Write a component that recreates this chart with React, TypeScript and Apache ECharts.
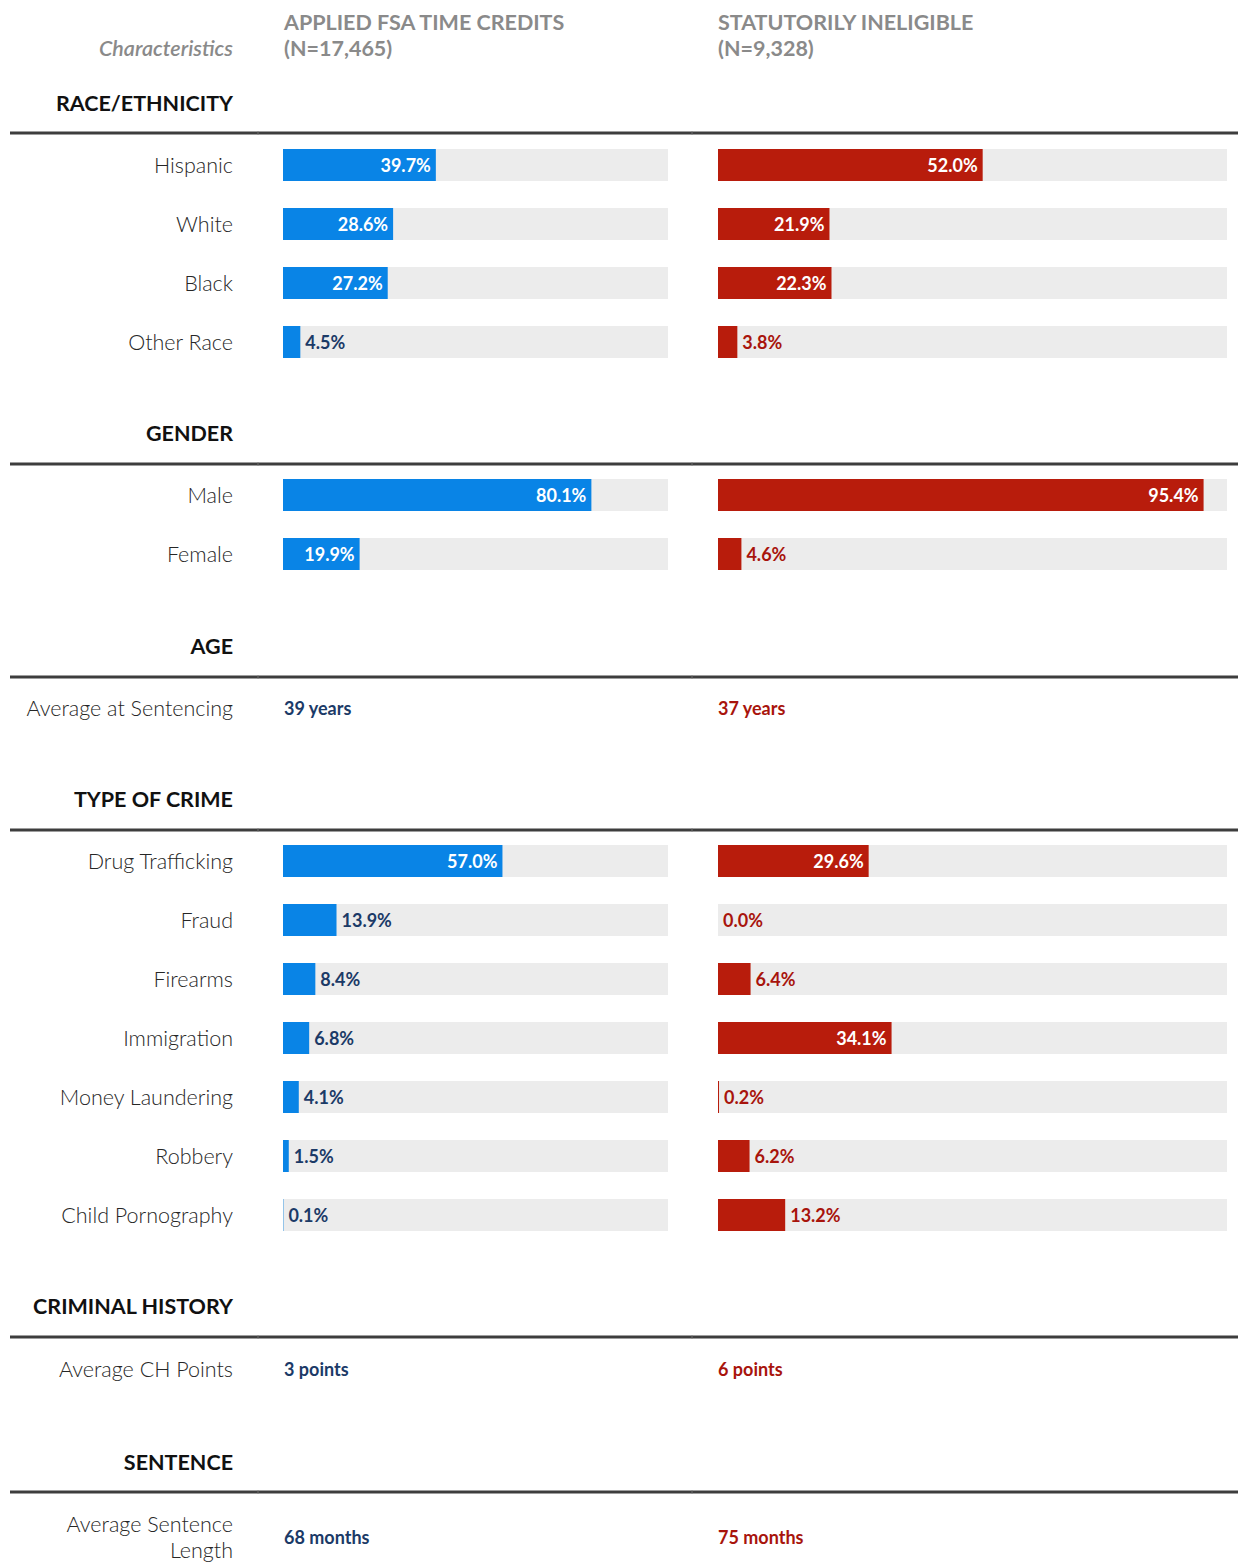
import React, { useEffect, useRef } from "react";
import * as echarts from "echarts";

// ---------- data ----------
const raceCats = ["Hispanic", "White", "Black", "Other Race"];
const raceFsa = [39.7, 28.6, 27.2, 4.5];
const raceIneligible = [52.0, 21.9, 22.3, 3.8];

const genderCats = ["Male", "Female"];
const genderFsa = [80.1, 19.9];
const genderIneligible = [95.4, 4.6];

const crimeCats = [
  "Drug Trafficking",
  "Fraud",
  "Firearms",
  "Immigration",
  "Money Laundering",
  "Robbery",
  "Child Pornography",
];
const crimeFsa = [57.0, 13.9, 8.4, 6.8, 4.1, 1.5, 0.1];
const crimeIneligible = [29.6, 0.0, 6.4, 34.1, 0.2, 6.2, 13.2];

const ageLabel = "Average at Sentencing";
const ageFsa = "39 years";
const ageIneligible = "37 years";

const chLabel = "Average CH Points";
const chFsa = "3 points";
const chIneligible = "6 points";

const sentenceLabel = "Average Sentence\nLength";
const sentenceFsa = "68 months";
const sentenceIneligible = "75 months";

const colHeaderFsa = "APPLIED FSA TIME CREDITS\n(N=17,465)";
const colHeaderIneligible = "STATUTORILY INELIGIBLE\n(N=9,328)";
const colHeaderChar = "Characteristics";

const sectionTitles = [
  "RACE/ETHNICITY",
  "GENDER",
  "AGE",
  "TYPE OF CRIME",
  "CRIMINAL HISTORY",
  "SENTENCE",
];

// ---------- styles / layout ----------
const BLUE = "#0984e6";
const RED = "#b81c0c";
const NAVY = "#1b3a67";
const DARKRED = "#a8140c";
const TRACK = "#ececec";
const FONT = "Lato, 'Noto Sans', sans-serif";
const ROW = 59;
const LABEL_RIGHT = 233;
const BLUE_LEFT = 283;
const BLUE_W = 385;
const RED_LEFT = 718;
const RED_W = 509;
const INSIDE_THRESHOLD = 15;
const HEAD_SIZE = 21.5;
const LABEL_SIZE = 21.5;
const VALUE_SIZE = 18;
const LABEL_COLOR = "#262626";

const sectionTitleY = [103, 433, 646, 799, 1306, 1462];
const ruleY = [133, 464, 677, 830, 1337, 1492];

const barSections = [
  { cats: raceCats, fsa: raceFsa, inel: raceIneligible, firstRowY: 165 },
  { cats: genderCats, fsa: genderFsa, inel: genderIneligible, firstRowY: 495 },
  { cats: crimeCats, fsa: crimeFsa, inel: crimeIneligible, firstRowY: 861 },
];

const textRows = [
  { label: ageLabel, a: ageFsa, b: ageIneligible, y: 708 },
  { label: chLabel, a: chFsa, b: chIneligible, y: 1369 },
  { label: sentenceLabel, a: sentenceFsa, b: sentenceIneligible, y: 1537 },
];

function buildOption() {
  const grid: any[] = [];
  const xAxis: any[] = [];
  const yAxis: any[] = [];
  const series: any[] = [];

  barSections.forEach((sec, si) => {
    const top = sec.firstRowY - ROW / 2;
    const height = ROW * sec.cats.length;
    [0, 1].forEach((side) => {
      const gi = grid.length;
      grid.push({
        left: side === 0 ? BLUE_LEFT : RED_LEFT,
        width: side === 0 ? BLUE_W : RED_W,
        top,
        height,
        containLabel: false,
      });
      xAxis.push({
        type: "value",
        gridIndex: gi,
        min: 0,
        max: 100,
        show: false,
      });
      yAxis.push({
        type: "category",
        gridIndex: gi,
        data: sec.cats,
        inverse: true,
        axisLine: { show: false },
        axisTick: { show: false },
        splitLine: { show: false },
        axisLabel: {
          show: side === 0,
          margin: BLUE_LEFT - LABEL_RIGHT,
          fontFamily: FONT,
          fontWeight: 300,
          fontSize: LABEL_SIZE,
          color: LABEL_COLOR,
          padding: [0, 0, 2, 0],
        },
      });
      const vals = side === 0 ? sec.fsa : sec.inel;
      const barColor = side === 0 ? BLUE : RED;
      const outColor = side === 0 ? NAVY : DARKRED;
      series.push({
        type: "bar",
        name: `s${si}-${side}`,
        xAxisIndex: gi,
        yAxisIndex: gi,
        barWidth: 32,
        showBackground: true,
        backgroundStyle: { color: TRACK },
        itemStyle: { color: barColor },
        data: vals.map((v) => {
          const inside = v >= INSIDE_THRESHOLD;
          return {
            value: v,
            label: {
              show: true,
              position: inside ? "insideRight" : "right",
              distance: 5,
              color: inside ? "#ffffff" : outColor,
              fontFamily: FONT,
              fontWeight: "bold",
              fontSize: VALUE_SIZE,
              formatter: (p: any) => `${Number(p.value).toFixed(1)}%`,
            },
          };
        }),
      });
    });
  });

  const graphic: any[] = [];
  // column headers
  graphic.push({
    type: "text",
    x: LABEL_RIGHT,
    y: 48,
    style: {
      text: colHeaderChar,
      align: "right",
      verticalAlign: "middle",
      fill: "#8a8a8a",
      font: `italic 600 ${HEAD_SIZE}px ${FONT}`,
    },
  });
  graphic.push({
    type: "text",
    x: BLUE_LEFT + 1,
    y: 9,
    style: {
      text: colHeaderFsa,
      align: "left",
      verticalAlign: "top",
      fill: "#8a8a8a",
      font: `bold ${HEAD_SIZE}px ${FONT}`,
      lineHeight: 26,
    },
  });
  graphic.push({
    type: "text",
    x: RED_LEFT,
    y: 9,
    style: {
      text: colHeaderIneligible,
      align: "left",
      verticalAlign: "top",
      fill: "#8a8a8a",
      font: `bold ${HEAD_SIZE}px ${FONT}`,
      lineHeight: 26,
    },
  });
  // section titles and rules
  sectionTitles.forEach((t, i) => {
    graphic.push({
      type: "text",
      x: LABEL_RIGHT,
      y: sectionTitleY[i],
      style: {
        text: t,
        align: "right",
        verticalAlign: "middle",
        fill: "#111111",
        font: `bold ${HEAD_SIZE}px ${FONT}`,
      },
    });
    graphic.push({
      type: "line",
      shape: { x1: 10, y1: ruleY[i], x2: 1238, y2: ruleY[i] },
      style: { stroke: "#3d3d3d", lineWidth: 3 },
    });
    [258, 692].forEach((gx) => {
      graphic.push({
        type: "line",
        shape: { x1: gx, y1: ruleY[i] - 1.5, x2: gx, y2: ruleY[i] + 1.5 },
        style: { stroke: "#6a6a6a", lineWidth: 1 },
      });
    });
  });
  // text-only rows
  textRows.forEach((r) => {
    graphic.push({
      type: "text",
      x: LABEL_RIGHT,
      y: r.y,
      style: {
        text: r.label,
        align: "right",
        verticalAlign: "middle",
        fill: LABEL_COLOR,
        font: `300 ${LABEL_SIZE}px ${FONT}`,
        lineHeight: 26,
      },
    });
    graphic.push({
      type: "text",
      x: BLUE_LEFT + 1,
      y: r.y,
      style: {
        text: r.a,
        align: "left",
        verticalAlign: "middle",
        fill: NAVY,
        font: `bold ${VALUE_SIZE}px ${FONT}`,
      },
    });
    graphic.push({
      type: "text",
      x: RED_LEFT,
      y: r.y,
      style: {
        text: r.b,
        align: "left",
        verticalAlign: "middle",
        fill: DARKRED,
        font: `bold ${VALUE_SIZE}px ${FONT}`,
      },
    });
  });

  return {
    animation: false,
    backgroundColor: "#ffffff",
    textStyle: { fontFamily: FONT },
    grid,
    xAxis,
    yAxis,
    series,
    graphic,
  };
}

export default function App() {
  const ref = useRef<HTMLDivElement>(null);
  useEffect(() => {
    document.body.style.margin = "0";
    if (!ref.current) return;
    const chart = echarts.init(ref.current, undefined, { renderer: "svg" });
    chart.setOption(buildOption() as any);
    return () => chart.dispose();
  }, []);
  return <div ref={ref} style={{ width: 1238, height: 1562 }} />;
}
